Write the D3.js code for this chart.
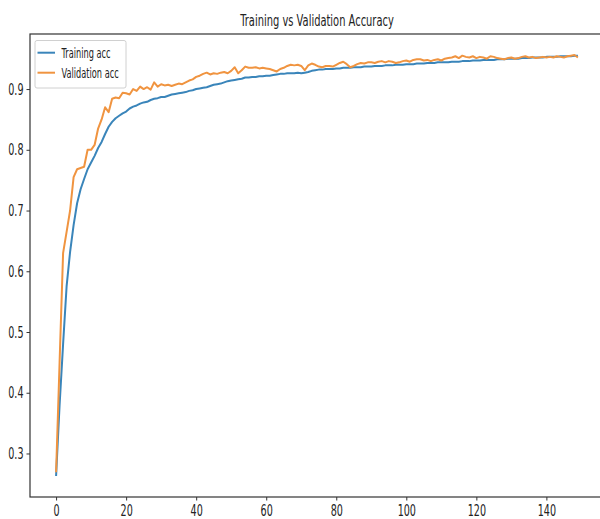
<!DOCTYPE html>
<html>
<head>
<meta charset="utf-8">
<script src="https://cdn.jsdelivr.net/npm/d3@7"></script>
<style>
  body { margin: 0; background: #fff; }
  text { font-family: "DejaVu Sans", sans-serif; fill: #222; }
</style>
</head>
<body>
<svg width="600" height="519"></svg>
<script>
// accuracy per epoch
const trainAcc = [
  0.263, 0.380, 0.480, 0.575, 0.632, 0.676, 0.712, 0.735, 0.752, 0.768,
  0.779, 0.790, 0.803, 0.813, 0.826, 0.838, 0.846, 0.852, 0.856, 0.860,
  0.863, 0.868, 0.871, 0.873, 0.876, 0.878, 0.879, 0.882, 0.884, 0.885,
  0.887, 0.887, 0.889, 0.891, 0.892, 0.893, 0.894, 0.895, 0.897, 0.898,
  0.900, 0.901, 0.902, 0.903, 0.905, 0.907, 0.908, 0.909, 0.911, 0.913,
  0.914, 0.915, 0.916, 0.917, 0.919, 0.919, 0.920, 0.920, 0.921, 0.921,
  0.922, 0.922, 0.923, 0.924, 0.925, 0.925, 0.926, 0.926, 0.926, 0.927,
  0.926, 0.927, 0.928, 0.930, 0.931, 0.932, 0.932, 0.933, 0.933, 0.933,
  0.934, 0.934, 0.935, 0.935, 0.935, 0.936, 0.936, 0.936, 0.937, 0.937,
  0.937, 0.938, 0.938, 0.938, 0.939, 0.939, 0.939, 0.940, 0.940, 0.940,
  0.941, 0.941, 0.941, 0.942, 0.942, 0.942, 0.943, 0.943, 0.943, 0.944,
  0.944, 0.944, 0.944, 0.945, 0.945, 0.945, 0.946, 0.946, 0.946, 0.947,
  0.947, 0.947, 0.948, 0.948, 0.948, 0.948, 0.949, 0.949, 0.949, 0.950,
  0.950, 0.950, 0.950, 0.951, 0.951, 0.951, 0.952, 0.952, 0.952, 0.952,
  0.953, 0.953, 0.953, 0.953, 0.954, 0.954, 0.954, 0.954, 0.955, 0.955
]
const valAcc = [
  0.269, 0.450, 0.630, 0.665, 0.700, 0.755, 0.768, 0.770, 0.772, 0.800,
  0.800, 0.808, 0.835, 0.850, 0.870, 0.862, 0.884, 0.886, 0.885, 0.894,
  0.893, 0.891, 0.900, 0.897, 0.904, 0.900, 0.903, 0.899, 0.911, 0.904,
  0.908, 0.906, 0.907, 0.905, 0.907, 0.909, 0.908, 0.911, 0.914, 0.916,
  0.920, 0.922, 0.925, 0.927, 0.924, 0.926, 0.925, 0.927, 0.928, 0.926,
  0.930, 0.936, 0.926, 0.931, 0.937, 0.935, 0.935, 0.936, 0.934, 0.935,
  0.934, 0.933, 0.931, 0.929, 0.933, 0.935, 0.938, 0.940, 0.939, 0.940,
  0.938, 0.931, 0.939, 0.942, 0.940, 0.937, 0.936, 0.938, 0.938, 0.937,
  0.940, 0.943, 0.945, 0.941, 0.936, 0.938, 0.941, 0.943, 0.942, 0.944,
  0.944, 0.943, 0.945, 0.946, 0.944, 0.946, 0.945, 0.943, 0.944, 0.946,
  0.947, 0.945, 0.948, 0.949, 0.949, 0.947, 0.948, 0.946, 0.948, 0.949,
  0.947, 0.950, 0.951, 0.952, 0.954, 0.951, 0.955, 0.953, 0.952, 0.954,
  0.951, 0.953, 0.952, 0.950, 0.954, 0.953, 0.951, 0.950, 0.949, 0.951,
  0.952, 0.950, 0.951, 0.953, 0.954, 0.952, 0.953, 0.951, 0.952, 0.953,
  0.952, 0.953, 0.952, 0.954, 0.953, 0.952, 0.954, 0.955, 0.956, 0.952
]
const seriesNames = ["Training acc", "Validation acc"]
const seriesColors = ["#3a85ba", "#f09440"]
const xTicks = [0, 20, 40, 60, 80, 100, 120, 140]
const yTicks = [0.3, 0.4, 0.5, 0.6, 0.7, 0.8, 0.9]
const title = "Training vs Validation Accuracy"

const squeeze = 0.6   // the picture's text is narrow
const svg = d3.select("svg")
const plotL = 30, plotT = 34, plotR = 604, plotB = 497

const n = trainAcc.length
const xPad = (n - 1) * 0.05
const allVals = trainAcc.concat(valAcc)
const yMin = d3.min(allVals), yMax = d3.max(allVals)
const yPad = (yMax - yMin) * 0.05

const xScale = d3.scaleLinear().domain([-xPad, n - 1 + xPad]).range([plotL, plotR])
const yScale = d3.scaleLinear().domain([yMin - yPad, yMax + yPad]).range([plotB, plotT])

function narrow(sel) {
  sel.each(function () {
    const w = this.getComputedTextLength()
    d3.select(this).attr("textLength", w * squeeze).attr("lengthAdjust", "spacingAndGlyphs")
  })
}

// lines
const line = d3.line()
  .x((d, i) => xScale(i))
  .y(d => yScale(d))

;[trainAcc, valAcc].forEach(function (vals, k) {
  svg.append("path")
    .datum(vals)
    .attr("fill", "none")
    .attr("stroke", seriesColors[k])
    .attr("stroke-width", 2)
    .attr("stroke-linejoin", "round")
    .attr("d", line)
})

// axes
const xAxis = svg.append("g")
  .attr("transform", "translate(0," + plotB + ")")
  .call(d3.axisBottom(xScale).tickValues(xTicks).tickSize(3.5).tickPadding(4).tickSizeOuter(0))
const yAxis = svg.append("g")
  .attr("transform", "translate(" + plotL + ",0)")
  .call(d3.axisLeft(yScale).tickValues(yTicks).tickFormat(d3.format(".1f")).tickSize(3.5).tickPadding(3).tickSizeOuter(0))

;[xAxis, yAxis].forEach(function (ax) {
  ax.select(".domain").remove()
  ax.selectAll("line").attr("stroke", "#333")
  ax.selectAll("text").attr("font-size", 16).attr("fill", "#222")
  narrow(ax.selectAll("text"))
})

// frame
svg.append("rect")
  .attr("x", plotL).attr("y", plotT)
  .attr("width", plotR - plotL).attr("height", plotB - plotT)
  .attr("fill", "none")
  .attr("stroke", "#333")
  .attr("stroke-width", 1.2)

// title
svg.append("text")
  .attr("x", (plotL + plotR) / 2)
  .attr("y", 26)
  .attr("text-anchor", "middle")
  .attr("font-size", 16.5)
  .text(title)
  .call(narrow)

// legend
const lg = svg.append("g")
lg.append("rect")
  .attr("x", 35).attr("y", 40.5)
  .attr("width", 91).attr("height", 47.5)
  .attr("rx", 2)
  .attr("fill", "#fff")
  .attr("fill-opacity", 0.8)
  .attr("stroke", "#d0d0d0")

seriesNames.forEach(function (name, i) {
  const y = 52.7 + i * 20
  lg.append("line")
    .attr("x1", 37.5).attr("x2", 55)
    .attr("y1", y).attr("y2", y)
    .attr("stroke", seriesColors[i])
    .attr("stroke-width", 2)
  lg.append("text")
    .attr("x", 61.5).attr("y", y + 5)
    .attr("font-size", 13.7)
    .text(name)
    .call(narrow)
})
</script>
</body>
</html>
